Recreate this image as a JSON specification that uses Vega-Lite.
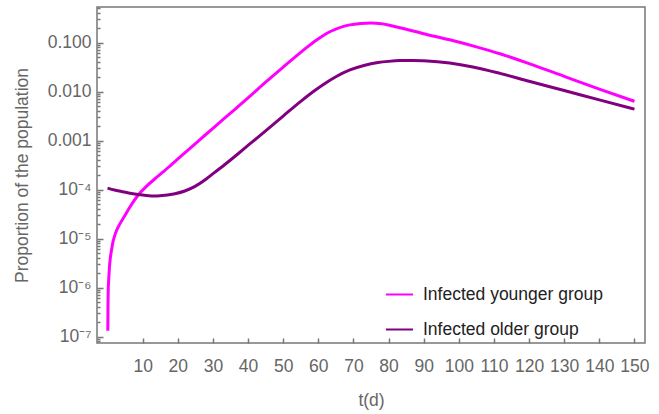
{
  "$schema": "https://vega.github.io/schema/vega-lite/v6.json",
  "width": 548,
  "height": 336,
  "autosize": "none",
  "padding": {"left": 97, "top": 7, "right": 14, "bottom": 71},
  "background": "white",
  "config": {
    "view": {"stroke": "#777777", "strokeWidth": 1.5},
    "axis": {"grid": false, "domain": false, "labelFont": "Liberation Sans", "titleFont": "Liberation Sans", "labelFontSize": 17.5, "titleFontSize": 17.5, "labelColor": "#666666", "titleColor": "#666666", "titleFontWeight": "normal", "tickColor": "#777777", "tickWidth": 1.5},
    "legend": {"labelFont": "Liberation Sans"}
  },
  "datasets": {
    "curves": [
      {"t": 0.08, "v": 1.32e-7, "g": "Infected younger group"},
      {"t": 0.12, "v": 3.55e-7, "g": "Infected younger group"},
      {"t": 0.2, "v": 8.9e-7, "g": "Infected younger group"},
      {"t": 0.3, "v": 1.32e-6, "g": "Infected younger group"},
      {"t": 0.4, "v": 1.78e-6, "g": "Infected younger group"},
      {"t": 0.55, "v": 2.63e-6, "g": "Infected younger group"},
      {"t": 0.77, "v": 3.89e-6, "g": "Infected younger group"},
      {"t": 1.1, "v": 5.62e-6, "g": "Infected younger group"},
      {"t": 1.54, "v": 8.51e-6, "g": "Infected younger group"},
      {"t": 2.0, "v": 1.12e-5, "g": "Infected younger group"},
      {"t": 2.59, "v": 1.48e-5, "g": "Infected younger group"},
      {"t": 3.44, "v": 1.95e-5, "g": "Infected younger group"},
      {"t": 4.95, "v": 2.95e-5, "g": "Infected younger group"},
      {"t": 6.5, "v": 4.57e-5, "g": "Infected younger group"},
      {"t": 8.74, "v": 7.76e-5, "g": "Infected younger group"},
      {"t": 11, "v": 1.15e-4, "g": "Infected younger group"},
      {"t": 13.5, "v": 1.66e-4, "g": "Infected younger group"},
      {"t": 16, "v": 2.34e-4, "g": "Infected younger group"},
      {"t": 18.2, "v": 3.24e-4, "g": "Infected younger group"},
      {"t": 22, "v": 5.62e-4, "g": "Infected younger group"},
      {"t": 26, "v": 1.00e-3, "g": "Infected younger group"},
      {"t": 30, "v": 1.78e-3, "g": "Infected younger group"},
      {"t": 35, "v": 3.63e-3, "g": "Infected younger group"},
      {"t": 40, "v": 7.41e-3, "g": "Infected younger group"},
      {"t": 45, "v": 0.0155, "g": "Infected younger group"},
      {"t": 50, "v": 0.0316, "g": "Infected younger group"},
      {"t": 55, "v": 0.0631, "g": "Infected younger group"},
      {"t": 57, "v": 0.0822, "g": "Infected younger group"},
      {"t": 59, "v": 0.106, "g": "Infected younger group"},
      {"t": 61, "v": 0.133, "g": "Infected younger group"},
      {"t": 63, "v": 0.162, "g": "Infected younger group"},
      {"t": 65, "v": 0.188, "g": "Infected younger group"},
      {"t": 67, "v": 0.211, "g": "Infected younger group"},
      {"t": 69, "v": 0.229, "g": "Infected younger group"},
      {"t": 72, "v": 0.245, "g": "Infected younger group"},
      {"t": 75, "v": 0.251, "g": "Infected younger group"},
      {"t": 78, "v": 0.242, "g": "Infected younger group"},
      {"t": 83.2, "v": 0.200, "g": "Infected younger group"},
      {"t": 90, "v": 0.151, "g": "Infected younger group"},
      {"t": 97.4, "v": 0.1135, "g": "Infected younger group"},
      {"t": 105, "v": 0.0813, "g": "Infected younger group"},
      {"t": 111.7, "v": 0.0589, "g": "Infected younger group"},
      {"t": 120, "v": 0.0372, "g": "Infected younger group"},
      {"t": 130, "v": 0.0204, "g": "Infected younger group"},
      {"t": 140, "v": 0.0112, "g": "Infected younger group"},
      {"t": 150, "v": 0.00631, "g": "Infected younger group"},
      {"t": 0, "v": 1.07e-4, "g": "Infected older group"},
      {"t": 2, "v": 9.77e-5, "g": "Infected older group"},
      {"t": 4, "v": 9.12e-5, "g": "Infected older group"},
      {"t": 6, "v": 8.51e-5, "g": "Infected older group"},
      {"t": 8.7, "v": 7.94e-5, "g": "Infected older group"},
      {"t": 11, "v": 7.59e-5, "g": "Infected older group"},
      {"t": 14, "v": 7.41e-5, "g": "Infected older group"},
      {"t": 16.5, "v": 7.67e-5, "g": "Infected older group"},
      {"t": 19.2, "v": 8.22e-5, "g": "Infected older group"},
      {"t": 22, "v": 9.33e-5, "g": "Infected older group"},
      {"t": 24.9, "v": 1.16e-4, "g": "Infected older group"},
      {"t": 28, "v": 1.62e-4, "g": "Infected older group"},
      {"t": 30.5, "v": 2.24e-4, "g": "Infected older group"},
      {"t": 33.4, "v": 3.24e-4, "g": "Infected older group"},
      {"t": 37, "v": 5.25e-4, "g": "Infected older group"},
      {"t": 40.5, "v": 8.51e-4, "g": "Infected older group"},
      {"t": 45, "v": 1.58e-3, "g": "Infected older group"},
      {"t": 50, "v": 3.16e-3, "g": "Infected older group"},
      {"t": 55, "v": 6.31e-3, "g": "Infected older group"},
      {"t": 59, "v": 0.0105, "g": "Infected older group"},
      {"t": 62, "v": 0.0148, "g": "Infected older group"},
      {"t": 65, "v": 0.0200, "g": "Infected older group"},
      {"t": 69, "v": 0.0275, "g": "Infected older group"},
      {"t": 73, "v": 0.0339, "g": "Infected older group"},
      {"t": 77, "v": 0.0389, "g": "Infected older group"},
      {"t": 80, "v": 0.0412, "g": "Infected older group"},
      {"t": 83.2, "v": 0.0427, "g": "Infected older group"},
      {"t": 87, "v": 0.0430, "g": "Infected older group"},
      {"t": 90, "v": 0.0422, "g": "Infected older group"},
      {"t": 97.4, "v": 0.0380, "g": "Infected older group"},
      {"t": 104, "v": 0.0316, "g": "Infected older group"},
      {"t": 111.7, "v": 0.0234, "g": "Infected older group"},
      {"t": 120, "v": 0.0162, "g": "Infected older group"},
      {"t": 130, "v": 0.0105, "g": "Infected older group"},
      {"t": 140, "v": 0.00676, "g": "Infected older group"},
      {"t": 150, "v": 0.00437, "g": "Infected older group"}
    ]
  },
  "data": {"name": "curves"},
  "layer": [
    {
      "mark": {"type": "line", "strokeWidth": 3, "interpolate": "monotone", "clip": true},
      "encoding": {
        "x": {
          "field": "t", "type": "quantitative",
          "scale": {"domain": [-3, 153], "nice": false, "zero": false},
          "axis": {"values": [10,20,30,40,50,60,70,80,90,100,110,120,130,140,150], "tickSize": -5, "labelPadding": 19, "title": "t(d)", "titlePadding": 17, "labelOverlap": false, "labelFlush": false}
        },
        "y": {
          "field": "v", "type": "quantitative",
          "scale": {"type": "log", "domain": [7.4e-8, 0.53], "nice": false},
          "axis": {"orient": "left", "values": [1e-7, 1e-6, 1e-5, 1e-4, 0.001, 0.01, 0.1], "tickSize": -6, "labelPadding": 12, "labelOverlap": false, "labelFlush": false, "title": "Proportion of the population", "titlePadding": 16,
            "labelExpr": "datum.value >= 0.0009 ? format(datum.value, '.3f') : '10⁻' + ['','','','','⁴','⁵','⁶','⁷'][round(-log(datum.value)/LN10)]"}
        },
        "color": {
          "field": "g", "type": "nominal",
          "scale": {"domain": ["Infected younger group", "Infected older group"], "range": ["#FF00FF", "#800080"]},
          "legend": {"title": null, "orient": "none", "legendX": 288, "legendY": 273, "padding": 0, "symbolType": "stroke", "symbolSize": 729, "symbolStrokeWidth": 2, "labelFontSize": 17.5, "labelColor": "#222222", "labelOffset": 9, "rowPadding": 12, "labelLimit": 400}
        }
      }
    },
    {
      "mark": {"type": "line", "opacity": 0},
      "encoding": {
        "x": {
          "field": "t", "type": "quantitative",
          "axis": {"values": [10,20,30,40,50,60,70,80,90,100,110,120,130,140,150], "tickSize": -5, "labelPadding": 19, "title": "t(d)", "titlePadding": 17, "labelOverlap": false, "labelFlush": false}
        },
        "y": {
          "field": "v", "type": "quantitative",
          "axis": {"orient": "left", "title": null, "labels": false, "tickSize": -3, "labelOverlap": false,
            "values": [8e-8, 9e-8, 2e-7, 3e-7, 4e-7, 5e-7, 6e-7, 7e-7, 8e-7, 9e-7, 2e-6, 3e-6, 4e-6, 5e-6, 6e-6, 7e-6, 8e-6, 9e-6, 2e-5, 3e-5, 4e-5, 5e-5, 6e-5, 7e-5, 8e-5, 9e-5, 2e-4, 3e-4, 4e-4, 5e-4, 6e-4, 7e-4, 8e-4, 9e-4, 0.002, 0.003, 0.004, 0.005, 0.006, 0.007, 0.008, 0.009, 0.02, 0.03, 0.04, 0.05, 0.06, 0.07, 0.08, 0.09, 0.2, 0.3, 0.4, 0.5]}
        },
        "detail": {"field": "g", "type": "nominal"}
      }
    }
  ],
  "resolve": {"axis": {"y": "independent"}}
}
